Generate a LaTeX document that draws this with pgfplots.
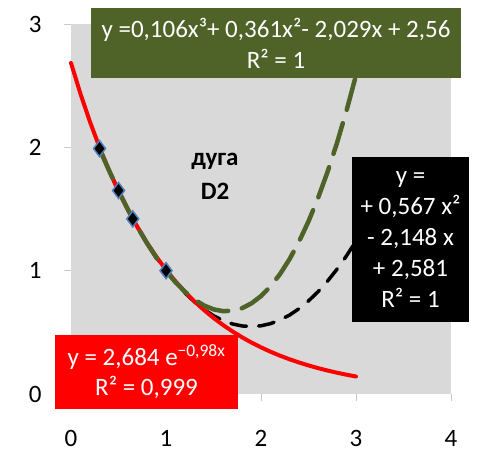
\documentclass[border=0pt]{standalone}
\usepackage{pgfplots}
\pgfplotsset{compat=1.18}
\usepackage{fontspec}
\setmainfont{Carlito}
\definecolor{plotbg}{RGB}{217,217,217}
\definecolor{trendgreen}{RGB}{79,98,40}
\definecolor{mkblue}{RGB}{79,129,189}
\definecolor{tickgray}{RGB}{200,200,200}
\definecolor{exred}{RGB}{255,0,0}
\begin{document}
\begin{tikzpicture}
\path[use as bounding box] (0pt,0pt) rectangle (478pt,463pt);
\begin{axis}[
  at={(71pt,69pt)}, anchor=south west,
  scale only axis, width=380pt, height=370pt,
  xmin=0, xmax=4, ymin=0, ymax=3,
  xtick={0,1,2,3,4}, ytick={0,1,2,3},
  axis background/.style={fill=plotbg},
  axis line style={draw=none},
  tick align=outside, major tick length=7pt,
  xtick pos=bottom, ytick pos=left,
  tick style={draw=tickgray, line width=0.75pt},
  tick label style={font=\fontsize{25}{30}\selectfont, text=black},
  xticklabel style={yshift=-26pt},
  yticklabel style={xshift=-19pt},
  /pgf/number format/assume math mode=true,
  clip=false,
]
% data points
\addplot[only marks, mark=diamond*, mark size=8pt,
  mark options={fill=black, draw=mkblue, line width=1.5pt}]
  coordinates {(0.3,1.99) (0.5,1.65) (0.65,1.42) (1.0,1.0)};
% quadratic trend (black dashed)
\addplot[black, line width=3.5pt, dash pattern=on 16pt off 12pt, line cap=round] coordinates {
(0.3,1.9876) (0.4,1.8125) (0.5,1.6488) (0.6,1.4963) (0.7,1.3552) (0.8,1.2255)
(0.9,1.1071) (1.0,1.0) (1.1,0.9043) (1.2,0.8199) (1.3,0.7468) (1.4,0.6851)
(1.5,0.6348) (1.6,0.5957) (1.7,0.5680) (1.8,0.5517) (1.9,0.5467) (2.0,0.5530)
(2.1,0.5707) (2.2,0.5997) (2.3,0.6400) (2.4,0.6917) (2.5,0.7548) (2.6,0.8291)
(2.7,0.9148) (2.8,1.0119) (2.9,1.1203) (3.0,1.2400)};
% exponential trend (red)
\addplot[exred, line width=4pt, line cap=round] coordinates {
(0.0,2.6840) (0.1,2.4334) (0.2,2.2063) (0.3,2.0003) (0.4,1.8136) (0.5,1.6443)
(0.6,1.4908) (0.7,1.3516) (0.8,1.2254) (0.9,1.1111) (1.0,1.0073) (1.1,0.9133)
(1.2,0.8280) (1.3,0.7507) (1.4,0.6807) (1.5,0.6171) (1.6,0.5595) (1.7,0.5073)
(1.8,0.4599) (1.9,0.4170) (2.0,0.3781) (2.1,0.3428) (2.2,0.3108) (2.3,0.2818)
(2.4,0.2555) (2.5,0.2316) (2.6,0.2100) (2.7,0.1904) (2.8,0.1726) (2.9,0.1565)
(3.0,0.1419)};
% cubic trend (green dashed)
\addplot[trendgreen, line width=4.5pt, dash pattern=on 32pt off 14pt, line cap=round] coordinates {
(0.3,1.9866) (0.4,1.8129) (0.5,1.6490) (0.6,1.4955) (0.7,1.3530) (0.8,1.2221)
(0.9,1.1036) (1.0,0.9980) (1.1,0.9060) (1.2,0.8282) (1.3,0.7653) (1.4,0.7178)
(1.5,0.6865) (1.6,0.6719) (1.7,0.6748) (1.8,0.6956) (1.9,0.7352) (2.0,0.7940)
(2.1,0.8728) (2.2,0.9721) (2.3,1.0927) (2.4,1.2351) (2.5,1.4000) (2.6,1.5880)
(2.7,1.7998) (2.8,2.0360) (2.9,2.2971) (3.0,2.5840)};
\end{axis}
\node[font=\bfseries\fontsize{25}{34}\selectfont, align=center, text=black] at (215pt,287pt) {дуга\\D2};
\node[fill=trendgreen, text=white, minimum width=370pt, minimum height=70pt, inner sep=0pt,
  align=center, font=\fontsize{25}{31}\selectfont] at (276pt,420pt)
  {y =0,106x³+ 0,361x²- 2,029x + 2,56\\R² = 1};
\node[fill=black, text=white, minimum width=117pt, minimum height=165pt, inner sep=0pt,
  align=center, font=\fontsize{25}{31}\selectfont] at (410.5pt,223.5pt)
  {y =\\+ 0,567 x²\\- 2,148 x\\+ 2,581\\R² = 1};
\node[fill=exred, text=white, minimum width=183pt, minimum height=74pt, inner sep=0pt,
  align=center, font=\fontsize{25}{30}\selectfont] at (146.5pt,91pt)
  {y = 2,684 e\textsuperscript{−0,98x}\\R² = 0,999};
\end{tikzpicture}
\end{document}
